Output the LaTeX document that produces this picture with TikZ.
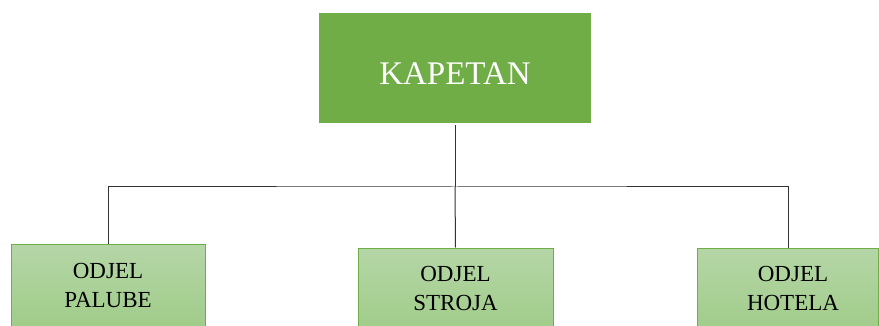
\documentclass[tikz,border=0pt]{standalone}
\usepackage{fontspec}
\setmainfont{Liberation Serif}
\usetikzlibrary{positioning}
\definecolor{kapgreen}{HTML}{70AD47}
\definecolor{odtop}{HTML}{B5D6A7}
\definecolor{odbot}{HTML}{A0CC89}
\tikzset{
  chief/.style={fill=kapgreen,draw=none,text=white,minimum width=272pt,minimum height=110pt,inner sep=0pt,text height=34pt,text depth=0pt,font=\fontsize{33}{36}\selectfont},
  dept/.style={top color=odtop,bottom color=odbot,draw=kapgreen,line width=1pt,inner sep=0pt,minimum height=84pt},
  depttext/.style={align=center,font=\fontsize{23}{29}\selectfont},
  link/.style={draw=black!80,line width=1pt}
}
\begin{document}
\begin{tikzpicture}[x=1pt,y=-1pt]
\clip (0,0) rectangle (879,326);
\fill[white] (0,0) rectangle (879,326);
% top box
\node[chief] (kapetan) at (455,68) {KAPETAN};

% departments
\node[dept,minimum width=194pt] (palube) at (108,286) {};
\node[depttext] (palubetxt) at (108,285) {ODJEL\\PALUBE};
\node[dept,minimum width=195pt] (stroja) at (455.5,290) {};
\node[depttext] (strojatxt) at (455.5,288) {ODJEL\\STROJA};
\node[dept,minimum width=181pt] (hotela) at (788,290) {};
\node[depttext] (hotelatxt) at (793,288) {ODJEL\\HOTELA};

% connectors
\coordinate (bus) at (455,187);
\draw[link] (kapetan.south) ++(0,2) -- (bus);
\draw[link] (palube.north) |- (bus) -| (hotela.north);
\draw[link] (bus) -- (stroja.north);
\end{tikzpicture}
\end{document}
